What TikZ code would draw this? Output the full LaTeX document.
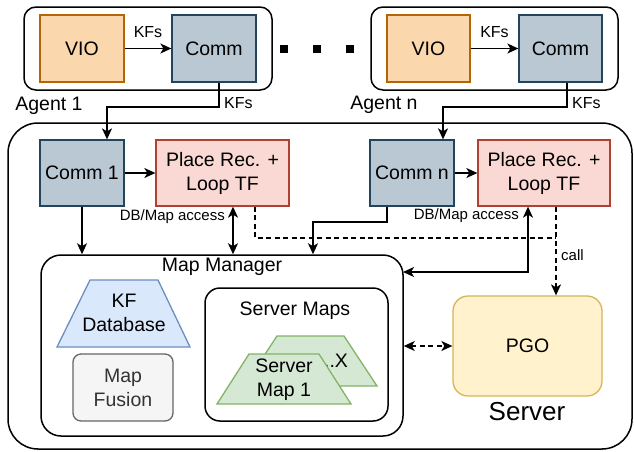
\documentclass[tikz,border=0pt]{standalone}
\usepackage{fontspec}
\setmainfont{Liberation Sans}
\usetikzlibrary{arrows.meta}
\definecolor{vioF}{HTML}{FAD7AC}
\definecolor{vioD}{HTML}{B46504}
\definecolor{comF}{HTML}{BAC8D3}
\definecolor{comD}{HTML}{23445D}
\definecolor{plcF}{HTML}{FAD9D5}
\definecolor{plcD}{HTML}{AE4132}
\definecolor{kfF}{HTML}{DAE8FC}
\definecolor{kfD}{HTML}{6C8EBF}
\definecolor{fusF}{HTML}{F5F5F5}
\definecolor{fusD}{HTML}{666666}
\definecolor{fusT}{HTML}{333333}
\definecolor{mapF}{HTML}{D5E8D4}
\definecolor{mapD}{HTML}{82B366}
\definecolor{pgoF}{HTML}{FFF2CC}
\definecolor{pgoD}{HTML}{D6B656}
\newcommand{\mainfnt}{\fontsize{19.5}{24}\selectfont}
\newcommand{\smallfnt}{\fontsize{15}{18}\selectfont}
\begin{document}
\begin{tikzpicture}[x=1pt,y=-1pt,
	blk/.style={draw,line width=1.3,inner sep=0,align=center,font=\mainfnt},
	cont/.style={draw,line width=1.5,inner sep=0},
	lbl/.style={inner sep=0,font=\smallfnt},
	tip/.style={Stealth[length=11pt,width=10pt,inset=3pt]},
	arr/.style={-{Stealth[length=11pt,width=10pt,inset=3pt]},line width=1.5},
	arrb/.style={{Stealth[length=11pt,width=10pt,inset=3pt]}-{Stealth[length=11pt,width=10pt,inset=3pt]},line width=1.5},
	dsh/.style={dash pattern=on 5pt off 3.5pt}]
	\useasboundingbox (0,0) rectangle (634,451);
	
	% agents
	\node[cont,rounded corners=12,minimum width=248,minimum height=83] (agent1) at (148,48.5) {};
	\node[cont,rounded corners=12,minimum width=247,minimum height=83] (agentn) at (494.5,48.5) {};
	\node[blk,fill=vioF,draw=vioD,minimum width=84,minimum height=67] (vio1) at (82,48.5) {VIO};
	\node[blk,fill=comF,draw=comD,minimum width=84,minimum height=67] (comma1) at (214,48.5) {Comm};
	\node[blk,fill=vioF,draw=vioD,minimum width=83,minimum height=67] (vion) at (428.5,48.5) {VIO};
	\node[blk,fill=comF,draw=comD,minimum width=83,minimum height=67] (comman) at (560.5,48.5) {Comm};
	\node[inner sep=0,font=\mainfnt] (agent1lbl) at (49,106) {Agent 1};
	\node[inner sep=0,font=\mainfnt] (agentnlbl) at (384,105) {Agent n};
	\foreach \x in {284,317,350}
		\fill (\x-4,45) rectangle +(8,8);
	
	% server
	\node[cont,rounded corners=30,minimum width=624,minimum height=326] (server) at (320,286) {};
	\node[inner sep=0,font=\fontsize{26}{30}\selectfont] (serverlbl) at (527,412) {Server};
	\node[blk,fill=comF,draw=comD,minimum width=84,minimum height=66] (comm1) at (82,173) {Comm 1};
	\node[blk,fill=plcF,draw=plcD,minimum width=133,minimum height=66] (placerec1) at (222.5,173) {Place Rec. +\\Loop TF};
	\node[blk,fill=comF,draw=comD,minimum width=84,minimum height=66] (commn) at (412,173) {Comm n};
	\node[blk,fill=plcF,draw=plcD,minimum width=132,minimum height=66] (placerecn) at (544,173) {Place Rec. +\\Loop TF};
	\node[blk,fill=pgoF,draw=pgoD,rounded corners=15,minimum width=149,minimum height=100] (pgo) at (527.5,346) {PGO};
	
	% map manager
	\node[cont,rounded corners=20,minimum width=362,minimum height=181] (mapmgr) at (222,345.5) {};
	\node[inner sep=0,font=\mainfnt] (mapmgrlbl) at (222,267) {Map Manager};
	\filldraw[fill=kfF,draw=kfD,line width=1.3] (90,280) -- (158,280) -- (190,347) -- (57,347) -- cycle;
	\node[inner sep=0,align=center,font=\mainfnt] (kfdb) at (124,312.5) {KF\\Database};
	\node[blk,fill=fusF,draw=fusD,text=fusT,rounded corners=8,minimum width=100,minimum height=67] (mapfus) at (123,387.5) {Map\\Fusion};
	\node[cont,rounded corners=15,minimum width=183,minimum height=133] (srvmaps) at (296.5,354.5) {};
	\node[inner sep=0,font=\mainfnt] (srvmapslbl) at (295,311) {Server Maps};
	\filldraw[fill=mapF,draw=mapD,line width=1.3] (277,336) -- (344,336) -- (377,386) -- (244,386) -- cycle;
	\node[inner sep=0,font=\mainfnt] (mapx) at (336,361) {..X};
	\filldraw[fill=mapF,draw=mapD,line width=1.3] (249,354) -- (319,354) -- (351,404) -- (217,404) -- cycle;
	\node[inner sep=0,align=center,font=\mainfnt] (map1) at (284,379.5) {Server\\Map 1};
	
	% connectors
	\draw[arr] (vio1) -- (comma1) node[midway,above=10pt,lbl,font=\fontsize{16}{19}\selectfont]{KFs};
	\draw[arr] (vion) -- (comman) node[midway,above=10pt,lbl,font=\fontsize{16}{19}\selectfont]{KFs};
	\coordinate (kf1) at (107,107);
	\coordinate (kfn) at (443,107);
	\draw[arr] ([xshift=5]comma1.south) |- (kf1) -- (kf1 |- comm1.north);
	\draw[arr] ([xshift=6.5]comman.south) |- (kfn) -- (kfn |- commn.north);
	\node[lbl,anchor=west,font=\fontsize{16}{19}\selectfont] (kf1lbl) at (224,103) {KFs};
	\node[lbl,anchor=west,font=\fontsize{16}{19}\selectfont] (kfnlbl) at (572,103) {KFs};
	\draw[arr] (comm1) -- (placerec1);
	\draw[arr] (commn) -- (placerecn);
	\draw[arr] (comm1.south) -- (comm1.south |- mapmgr.north);
	\draw[arrb] ([xshift=10.5]placerec1.south) -- ([xshift=10.5]placerec1.south |- mapmgr.north);
	\node[lbl,anchor=east] (db1lbl) at (225,217) {DB/Map access};
	\coordinate (cn) at (313,222);
	\draw[arr] ([xshift=-25]commn.south) |- (cn) -- (cn |- mapmgr.north);
	\coordinate (dbn) at (403,272);
	\draw[arrb] ([xshift=-16]placerecn.south) |- (dbn);
	\node[lbl,anchor=east] (dbnlbl) at (519,216) {DB/Map access};
	\coordinate (callj) at (556,238);
	\draw[line width=1.3,dsh] ([xshift=32.5]placerec1.south) |- (callj);
	\draw[arr,line width=1.3,dsh] ([xshift=12]placerecn.south) -- ([xshift=12]placerecn.south |- pgo.north);
	\node[lbl,anchor=west] (calllbl) at (561,255) {call};
	\draw[arrb,line width=1.3,dsh] (mapmgr.east |- pgo.west) -- (pgo.west);
\end{tikzpicture}
\end{document}
